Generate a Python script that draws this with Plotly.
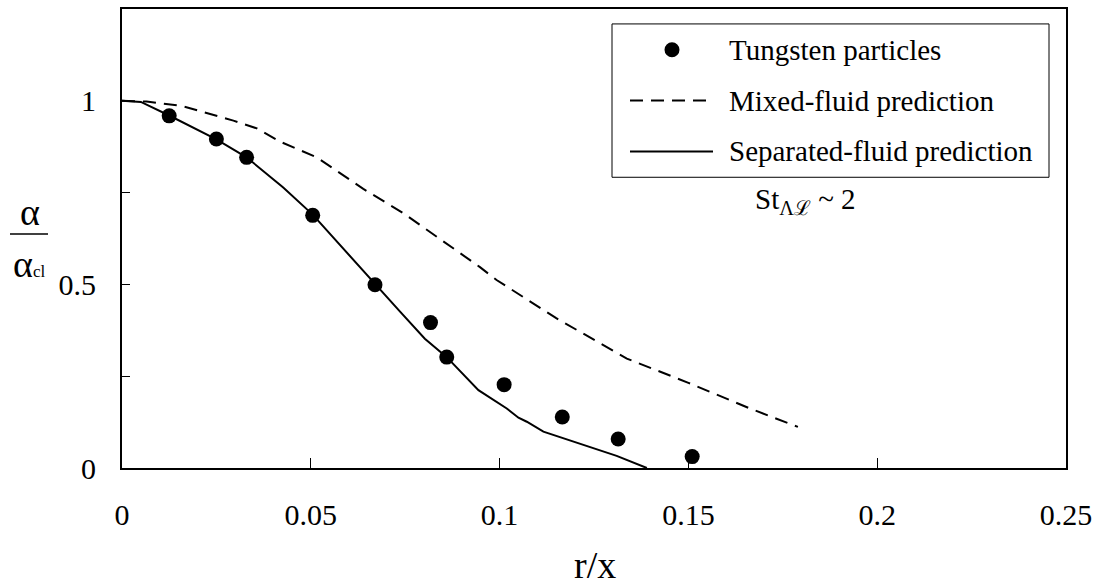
import plotly.graph_objects as go

# ---- data ----
exp_x = [0.0125, 0.025, 0.033, 0.0505, 0.067, 0.0817, 0.086, 0.1012, 0.1166, 0.1314, 0.151]
exp_y = [0.959, 0.896, 0.846, 0.688, 0.499, 0.396, 0.302, 0.227, 0.139, 0.079, 0.031]

mixed_x = [0.0, 0.0065, 0.0158, 0.0295, 0.0357, 0.0418, 0.0516, 0.0639, 0.0745, 0.0851,
           0.0948, 0.0992, 0.115, 0.1337, 0.150, 0.1663, 0.179]
mixed_y = [1.0, 0.998, 0.986, 0.946, 0.925, 0.889, 0.846, 0.760, 0.694, 0.617,
           0.547, 0.512, 0.408, 0.298, 0.232, 0.162, 0.112]

sep_x = [0.0, 0.005, 0.0125, 0.025, 0.033, 0.0427, 0.0505, 0.0555, 0.067, 0.0737, 0.0802,
         0.086, 0.0944, 0.1019, 0.105, 0.1072, 0.1116, 0.1178, 0.1248, 0.131, 0.139]
sep_y = [1.0, 0.997, 0.96, 0.895, 0.846, 0.764, 0.69, 0.633, 0.499, 0.425, 0.352,
         0.302, 0.212, 0.162, 0.137, 0.126, 0.099, 0.078, 0.053, 0.033, 0.0]

x_ticks = [0, 0.05, 0.1, 0.15, 0.2, 0.25]
x_ticktext = ["0", "0.05", "0.1", "0.15", "0.2", "0.25"]
y_ticks = [0, 0.5, 1.0]
y_ticktext = ["0", "0.5", "1"]

legend_names = ["Tungsten particles", "Mixed-fluid prediction", "Separated-fluid prediction"]

FONT = "Liberation Serif"
W, H = 1099, 585
L, R, T, B = 122, 33, 7, 117
PW, PH = W - L - R, H - T - B


def px(x):
    return (x - L) / PW


def py(y):
    return (H - B - y) / PH


fig = go.Figure()
fig.add_trace(go.Scatter(x=mixed_x, y=mixed_y, mode="lines", name=legend_names[1],
                         line=dict(color="black", width=2, dash="13px,8px")))
fig.add_trace(go.Scatter(x=sep_x, y=sep_y, mode="lines", name=legend_names[2],
                         line=dict(color="black", width=2)))
fig.add_trace(go.Scatter(x=exp_x, y=exp_y, mode="markers", name=legend_names[0],
                         marker=dict(color="black", size=15, symbol="circle")))

shapes = []
annotations = []

# custom legend box
shapes.append(dict(type="rect", xref="paper", yref="paper",
                   x0=px(612), x1=px(1049), y0=py(176), y1=py(22),
                   line=dict(color="black", width=1), fillcolor="white", layer="above"))
shapes.append(dict(type="circle", xref="paper", yref="paper",
                   x0=px(664.5), x1=px(679.5), y0=py(55.5), y1=py(40.5),
                   line=dict(color="black", width=0), fillcolor="black", layer="above"))
shapes.append(dict(type="line", xref="paper", yref="paper",
                   x0=px(630), x1=px(713), y0=py(99), y1=py(99),
                   line=dict(color="black", width=2, dash="13px,8px"), layer="above"))
shapes.append(dict(type="line", xref="paper", yref="paper",
                   x0=px(630), x1=px(713), y0=py(150), y1=py(150),
                   line=dict(color="black", width=2), layer="above"))
for name, yy in zip(legend_names, [48, 99, 150]):
    annotations.append(dict(text=name, xref="paper", yref="paper", x=px(727), y=py(yy),
                            xanchor="left", yanchor="middle", showarrow=False,
                            font=dict(family=FONT, size=29, color="black")))

# Stokes number annotation
annotations.append(dict(text="St<sub>Λℒ</sub> ~ 2", xref="paper", yref="paper",
                        x=px(753), y=py(200), xanchor="left", yanchor="middle",
                        showarrow=False, font=dict(family=FONT, size=29, color="black")))

# y-axis title as a fraction
annotations.append(dict(text="α", xref="paper", yref="paper", x=px(30), y=py(211),
                        xanchor="center", yanchor="middle", showarrow=False,
                        font=dict(family=FONT, size=38, color="black")))
shapes.append(dict(type="line", xref="paper", yref="paper",
                   x0=px(10), x1=px(48), y0=py(233), y1=py(233),
                   line=dict(color="black", width=1.5)))
annotations.append(dict(text="α<span style='font-size:17px'>cl</span>", xref="paper", yref="paper",
                        x=px(29), y=py(263),
                        xanchor="center", yanchor="middle", showarrow=False,
                        font=dict(family=FONT, size=38, color="black")))

# x-axis title
annotations.append(dict(text="r/x", xref="paper", yref="paper", x=px(595), y=py(565),
                        xanchor="center", yanchor="middle", showarrow=False,
                        font=dict(family=FONT, size=38, color="black")))

fig.update_layout(
    width=W, height=H,
    margin=dict(l=L, r=R, t=T, b=B),
    paper_bgcolor="white", plot_bgcolor="white",
    showlegend=False,
    font=dict(family=FONT, size=30, color="black"),
    shapes=shapes, annotations=annotations,
)
fig.update_xaxes(range=[0, 0.25], tickvals=x_ticks, ticktext=x_ticktext,
                 ticks="inside", ticklen=10, tickwidth=1, tickcolor="black",
                 showline=True, linecolor="black", linewidth=2, mirror=True,
                 showgrid=False, zeroline=False, ticklabelstandoff=19,
                 tickfont=dict(family=FONT, size=30, color="black"))
fig.update_yaxes(range=[0, 1.25], tickvals=y_ticks, ticktext=y_ticktext,
                 ticks="inside", ticklen=8, tickwidth=1, tickcolor="black",
                 minor=dict(tickvals=[0.25, 0.75], ticks="inside", ticklen=8,
                            tickwidth=1, tickcolor="black", showgrid=False),
                 showline=True, linecolor="black", linewidth=2, mirror=True,
                 showgrid=False, zeroline=False, ticklabelstandoff=18,
                 tickfont=dict(family=FONT, size=30, color="black"))

fig.write_html("out.html")
